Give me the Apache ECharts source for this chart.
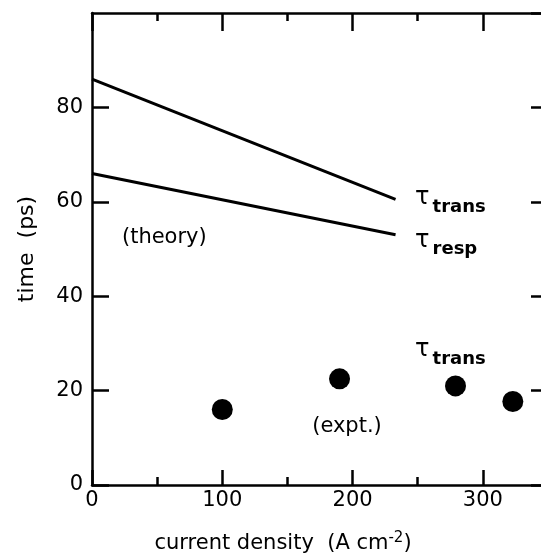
<!DOCTYPE html>
<html>
<head>
<meta charset="utf-8">
<script src="https://cdn.jsdelivr.net/npm/echarts@6/dist/echarts.min.js"></script>
<style>
  html, body { margin: 0; padding: 0; background: #fff; }
  #chart { width: 541px; height: 554px; }
</style>
</head>
<body>
<div id="chart"></div>
<script>
// theory curves (current density, time in ps)
const transTheory = [[0, 86], [233, 60.5]];
const respTheory = [[0, 66], [233, 53]];
// experimental tau_trans points
const exptPoints = [[100, 16], [190, 22.5], [279, 21], [323, 17.7]];

// text annotations anchored in data coords: [x, y, rich text]
const notes = [
  [248, 60.2, '{t|τ}{s|trans}'],
  [248, 51.2, '{t|τ}{s|resp}'],
  [23, 52.5, '{n|(theory)}'],
  [169, 12.3, '{n|(expt.)}'],
  [248, 28, '{t|τ}{s|trans}']
];

const chart = echarts.init(document.getElementById('chart'));

const font = 'DejaVu Sans';
const axisLineStyle = { color: '#000', width: 2.5 };

const option = {
  backgroundColor: '#fff',
  animation: false,
  textStyle: { fontFamily: font },
  grid: { left: 92, top: 13, width: 456, height: 472, outerBoundsMode: 'none', containLabel: false },
  xAxis: [
    {
      type: 'value',
      position: 'bottom',
      min: 0,
      max: 350,
      interval: 100,
      name: 'current density  (A cm{sup|-2})',
      nameLocation: 'middle',
      nameGap: 46,
      nameTextStyle: {
        fontFamily: font, fontSize: 21, color: '#000',
        padding: [0, 74, 0, 0],
        rich: { sup: { fontSize: 15, verticalAlign: 'top', padding: [0, 0, 10, 0] } }
      },
      axisLine: { onZero: false, lineStyle: axisLineStyle },
      axisTick: { inside: true, length: 15, lineStyle: axisLineStyle },
      minorTick: { show: true, splitNumber: 2, length: 8, lineStyle: axisLineStyle },
      axisLabel: { color: '#000', fontSize: 21, margin: 5, showMaxLabel: false },
      splitLine: { show: false }
    },
    {
      type: 'value',
      position: 'top',
      min: 0,
      max: 350,
      interval: 100,
      axisLine: { onZero: false, lineStyle: axisLineStyle },
      axisTick: { inside: true, length: 18, lineStyle: axisLineStyle },
      minorTick: { show: true, splitNumber: 2, length: 8, lineStyle: axisLineStyle },
      axisLabel: { show: false },
      splitLine: { show: false }
    }
  ],
  yAxis: [
    {
      type: 'value',
      position: 'left',
      min: 0,
      max: 100,
      interval: 20,
      name: 'time  (ps)',
      nameLocation: 'middle',
      nameGap: 54,
      nameTextStyle: { fontFamily: font, fontSize: 22, color: '#000' },
      axisLine: { onZero: false, lineStyle: axisLineStyle },
      axisTick: { inside: true, length: 17, lineStyle: axisLineStyle },
      axisLabel: { color: '#000', fontSize: 21, margin: 9, showMaxLabel: false },
      splitLine: { show: false }
    },
    {
      type: 'value',
      position: 'right',
      min: 0,
      max: 100,
      interval: 20,
      axisLine: { onZero: false, lineStyle: axisLineStyle },
      axisTick: { inside: true, length: 17, lineStyle: axisLineStyle },
      axisLabel: { show: false },
      splitLine: { show: false }
    }
  ],
  series: [
    {
      name: 'tau_trans theory',
      type: 'line',
      data: transTheory,
      showSymbol: false,
      lineStyle: { color: '#000', width: 3 }
    },
    {
      name: 'tau_resp theory',
      type: 'line',
      data: respTheory,
      showSymbol: false,
      lineStyle: { color: '#000', width: 3 }
    },
    {
      name: 'tau_trans expt',
      type: 'scatter',
      data: exptPoints,
      symbol: 'circle',
      symbolSize: 21,
      itemStyle: { color: '#000', opacity: 1 }
    },
    {
      name: 'notes',
      type: 'scatter',
      data: notes.map(n => ({ value: [n[0], n[1]], text: n[2] })),
      symbolSize: 0,
      silent: true,
      itemStyle: { opacity: 1 },
      label: {
        show: true,
        position: 'right',
        distance: 0,
        formatter: p => p.data.text,
        color: '#000',
        rich: {
          t: { fontSize: 24, fontFamily: font, color: '#000', verticalAlign: 'top', lineHeight: 30 },
          s: { fontSize: 18, fontWeight: 600, fontFamily: font, color: '#000', verticalAlign: 'bottom', lineHeight: 30, padding: [12, 0, 0, 3] },
          n: { fontSize: 21, fontFamily: font, color: '#000' }
        }
      }
    }
  ]
};

chart.setOption(option);
</script>
</body>
</html>
